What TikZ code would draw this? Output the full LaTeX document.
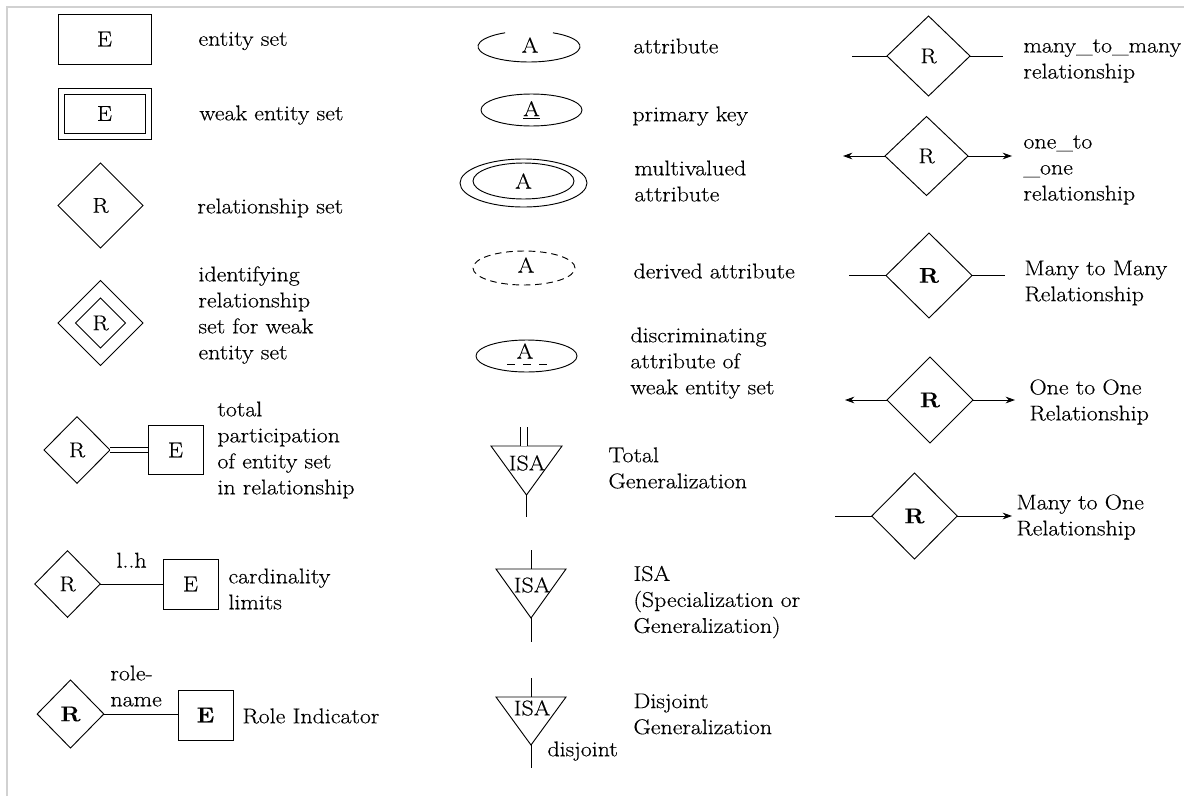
\documentclass[tikz,border=0pt]{standalone}
\usepackage{fontspec}
\setmainfont{Latin Modern Roman}[FakeStretch=1.12,FakeBold=0.35]
\usetikzlibrary{shapes.geometric,arrows.meta}
\begin{document}
\begin{tikzpicture}[x=0.75pt,y=-0.75pt,line width=0.7pt,
  every node/.style={font=\fontsize{16}{19.5}\selectfont},
  lbl/.style={anchor=west,align=left,inner sep=0pt},
  ent/.style={draw,rectangle,inner sep=0pt,outer sep=0pt},
  rel/.style={draw,diamond,inner sep=0pt,outer sep=0pt},
  attr/.style={draw,ellipse,inner sep=0pt,outer sep=0pt},
  txt/.style={inner sep=0pt},
  tip/.style={-{Stealth[length=7pt,width=5pt]}},
  dbl/.style={double,double distance=3.3pt},
  frame/.style={draw=black!18,line width=1.5pt}]

\path[use as bounding box] (0,0) rectangle (1184,796);
\draw[frame] (7,796) -- (7,7) -- (1184,7);

% ---------------- left column ----------------
\node[ent,minimum width=69.75pt,minimum height=37.5pt] (e1) at (104.5,39) {E};
\node[lbl] (t1) at (198,41) {entity set};

\node[ent,minimum width=69.75pt,minimum height=38.25pt] (e2o) at (104.5,113.5) {};
\node[ent,minimum width=60.75pt,minimum height=29.25pt] (e2) at (104.5,113.5) {E};
\node[lbl] (t2) at (199,115) {weak entity set};

\node[rel,minimum width=63.75pt,minimum height=63.75pt] (r1) at (100.5,205.5) {R};
\node[lbl] (t3) at (197,208) {relationship set};

\node[rel,minimum width=63.75pt,minimum height=63.75pt] (r2o) at (100.5,323) {};
\node[rel,minimum width=37.5pt,minimum height=37.5pt] (r2) at (100.5,323) {R};
\node[lbl] (t4) at (198,315) {identifying\\relationship\\set for weak\\entity set};

\node[rel,minimum width=49.5pt,minimum height=50pt] (r3) at (77,450) {R};
\node[ent,minimum width=41.25pt,minimum height=36.75pt] (e3) at (175.5,450) {E};
\draw[dbl] (r3.east) -- (e3.west);
\node[lbl] (t5) at (217,450) {total\\participation\\of entity set\\in relationship};

\node[rel,minimum width=49pt,minimum height=50pt] (r4) at (67.5,584) {R};
\node[ent,minimum width=41.25pt,minimum height=37.5pt] (e4) at (190.5,584) {E};
\draw (r4.east) -- node[txt,above=12pt] (c4) {l..h} (e4.west);
\node[lbl] (t6) at (228,589) {cardinality\\limits};

\node[rel,minimum width=50pt,minimum height=51pt] (r5) at (70.5,714) {\textbf{R}};
\node[ent,minimum width=41.25pt,minimum height=37.5pt] (e5) at (205.5,715) {\textbf{E}};
\draw (r5.east) -- (r5.east -| e5.west);
\node[lbl] (c5) at (110,686) {role-\\name};
\node[lbl] (t7) at (242,716) {Role Indicator};

% ---------------- middle column ----------------
\coordinate (a1) at (529,46.5);
\draw (a1) ++(298:51 and 15.5) arc[start angle=298,end angle=602,x radius=51,y radius=15.5];
\node[txt] (a1t) at (530,45) {A};
\node[lbl] (t8) at (633,46) {attribute};

\node[attr,minimum width=75.75pt,minimum height=24pt] (a2) at (531.5,110) {\underline{A}};
\node[lbl] (t9) at (632,116) {primary key};

\node[attr,minimum width=95.25pt,minimum height=36pt] (a3o) at (523.5,183) {};
\node[attr,minimum width=75.75pt,minimum height=27pt] (a3) at (523.5,181) {A};
\node[lbl] (t10) at (634,181) {multivalued\\attribute};

\node[attr,dash pattern=on 5pt off 3.5pt,minimum width=76.5pt,minimum height=25.5pt] (a4) at (524,268) {};
\node[txt] (a4t) at (526,265) {A};
\node[lbl] (t11) at (633,271) {derived attribute};

\node[attr,minimum width=75.75pt,minimum height=24pt] (a5) at (526.5,356) {};
\node[txt] (a5t) at (525,351) {A};
\coordinate (u1) at (507,364);
\coordinate (u2) at (547,364);
\draw[dash pattern=on 6pt off 6pt] (u1) -- (u2);
\node[lbl] (t12) at (630,363) {discriminating\\attribute of\\weak entity set};

% total generalization
\coordinate (g1a) at (491,446);
\coordinate (g1b) at (562,446);
\coordinate (g1c) at (526.5,495);
\coordinate (g1top) at (524,446);
\coordinate (g1up) at (524,427);
\coordinate (g1dn) at (526.5,517);
\draw (g1a) -- (g1b) -- (g1c) -- cycle;
\draw[double,double distance=5.2pt] (g1up) -- (g1top);
\draw (g1c) -- (g1dn);
\node[txt] (g1t) at (527,463) {ISA};
\node[lbl] (t13) at (608,468) {Total\\Generalization};

% ISA
\coordinate (g2a) at (496,569);
\coordinate (g2b) at (566,569);
\coordinate (g2c) at (531,618);
\coordinate (g2top) at (531,569);
\coordinate (g2up) at (531,550);
\coordinate (g2dn) at (531,642);
\draw (g2a) -- (g2b) -- (g2c) -- cycle;
\draw (g2up) -- (g2top);
\draw (g2c) -- (g2dn);
\node[txt] (g2t) at (532,585) {ISA};
\node[lbl] (t14) at (633,602) {ISA\\(Specialization or\\Generalization)};

% disjoint
\coordinate (g3a) at (496,697);
\coordinate (g3b) at (566,697);
\coordinate (g3c) at (531,745);
\coordinate (g3top) at (531,697);
\coordinate (g3up) at (531,678);
\coordinate (g3dn) at (531,768);
\draw (g3a) -- (g3b) -- (g3c) -- cycle;
\draw (g3up) -- (g3top);
\draw (g3c) -- (g3dn);
\node[txt] (g3t) at (532,708) {ISA};
\node[lbl] (g3d) at (547,751) {disjoint};
\node[lbl] (t15) at (633,714) {Disjoint\\Generalization};

% ---------------- right column ----------------
\node[rel,minimum width=62.25pt,minimum height=60pt] (m1) at (928.5,56) {R};
\coordinate (m1l) at (852,56);
\coordinate (m1r) at (1003,56);
\draw (m1l) -- (m1.west);
\draw (m1.east) -- (m1r);
\node[lbl] (t16) at (1023,61) {many\_to\_many\\relationship};

\node[rel,minimum width=62.25pt,minimum height=59.25pt] (o1) at (926.5,156) {R};
\coordinate (o1l) at (843,156);
\coordinate (o1r) at (1012,156);
\draw[tip] (o1.west) -- (o1l);
\draw[tip] (o1.east) -- (o1r);
\node[lbl] (t17) at (1023,170) {one\_to\\\_one\\relationship};

\node[rel,minimum width=64.5pt,minimum height=63.75pt] (m2) at (929,275.5) {\textbf{R}};
\coordinate (m2l) at (849,275.5);
\coordinate (m2r) at (1005,275.5);
\draw (m2l) -- (m2.west);
\draw (m2.east) -- (m2r);
\node[lbl] (t18) at (1024,283) {Many to Many\\Relationship};

\node[rel,minimum width=64.5pt,minimum height=64.5pt] (o2) at (930,400) {\textbf{R}};
\coordinate (o2l) at (845,400);
\coordinate (o2r) at (1015,400);
\draw[tip] (o2.west) -- (o2l);
\draw[tip] (o2.east) -- (o2r);
\node[lbl] (t19) at (1029,402) {One to One\\Relationship};

\node[rel,minimum width=64pt,minimum height=64.5pt] (n1) at (914.5,516) {\textbf{R}};
\coordinate (n1l) at (835,516);
\coordinate (n1r) at (1012,516);
\draw (n1l) -- (n1.west);
\draw[tip] (n1.east) -- (n1r);
\node[lbl] (t20) at (1016,517) {Many to One\\Relationship};
\end{tikzpicture}
\end{document}
